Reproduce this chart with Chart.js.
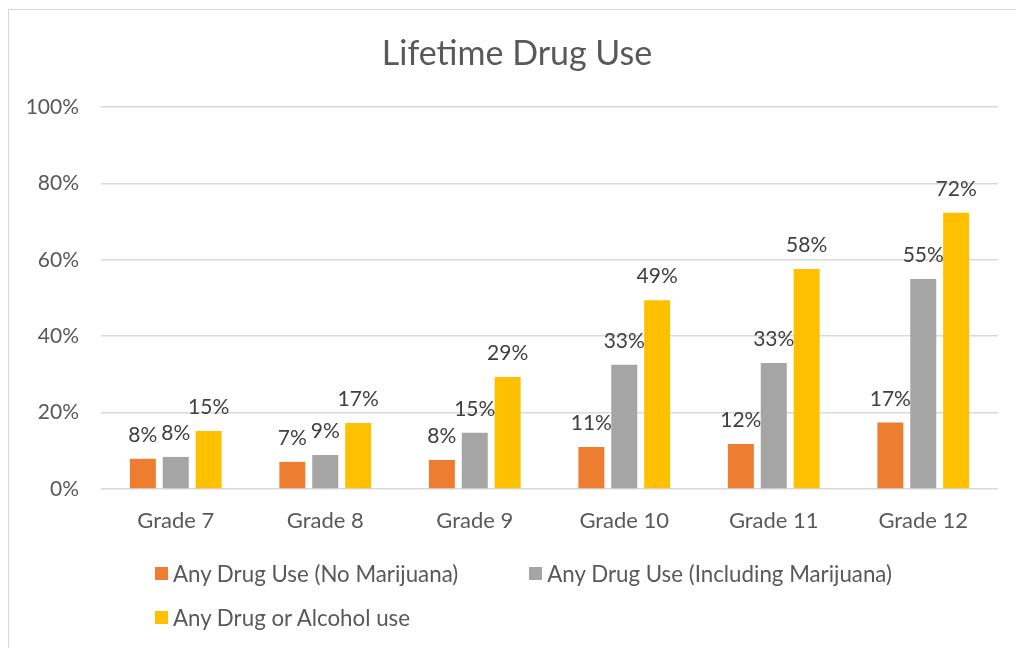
<!DOCTYPE html>
<html>
<head>
<meta charset="utf-8">
<script src="https://cdn.jsdelivr.net/npm/chart.js@4.4.1/dist/chart.umd.min.js"></script>
<style>
    html, body { margin: 0; padding: 0; background: #fff; overflow: hidden; }
    #wrap { position: relative; width: 1016px; height: 648px; }
    #frame { position: absolute; left: 8px; top: 9px; width: 1100px; height: 700px; border: 1px solid #d9d9d9; box-sizing: border-box; }
    #chart { position: absolute; left: 0; top: 0; }
    #title { position: absolute; left: 317px; width: 400px; top: 31px; text-align: center;
             font-family: Lato, sans-serif; font-size: 34px; line-height: 41px; color: #595959; }
    #legend { position: absolute; left: 155px; top: 560px; width: 820px; display: flex; flex-wrap: wrap; column-gap: 71px; row-gap: 18px;
              font-family: Lato, sans-serif; font-size: 22.3px; color: #595959; }
    .item { display: flex; align-items: center; height: 26px; white-space: nowrap; }
    .box { width: 13px; height: 13px; margin-right: 5px; }
</style>
</head>
<body>
<div id="wrap">
    <div id="frame"></div>
    <canvas id="chart" width="1016" height="648"></canvas>
    <div id="title"></div>
    <div id="legend"></div>
</div>
<script>
const chartTitle = 'Lifetime Drug Use';
const grades = ['Grade 7', 'Grade 8', 'Grade 9', 'Grade 10', 'Grade 11', 'Grade 12'];
const noMarijuana = [7.9, 7.1, 7.6, 11.0, 11.8, 17.4];
const inclMarijuana = [8.4, 8.9, 14.7, 32.5, 33.0, 55.0];
const drugOrAlcohol = [15.2, 17.3, 29.3, 49.4, 57.6, 72.3];
const seriesNames = ['Any Drug Use (No Marijuana)', 'Any Drug Use (Including Marijuana)', 'Any Drug or Alcohol use'];
const seriesColors = ['#ED7D31', '#A5A5A5', '#FFC000'];

const textColor = '#595959';
const fontFam = 'Lato, sans-serif';

// value labels above the bars
const barLabels = {
    id: 'barLabels',
    afterDatasetsDraw(chart) {
        const ctx = chart.ctx;
        ctx.save();
        ctx.font = '21px ' + fontFam;
        ctx.fillStyle = '#404040';
        ctx.textAlign = 'center';
        ctx.textBaseline = 'alphabetic';
        chart.data.datasets.forEach((ds, i) => {
            chart.getDatasetMeta(i).data.forEach((bar, j) => {
                ctx.fillText(Math.round(ds.data[j]) + '%', bar.x, bar.y - 17);
            });
        });
        ctx.restore();
    }
};

const allSeries = [noMarijuana, inclMarijuana, drugOrAlcohol];

new Chart(document.getElementById('chart'), {
    type: 'bar',
    data: {
        labels: grades,
        datasets: allSeries.map((d, i) => ({
            label: seriesNames[i],
            data: d,
            backgroundColor: seriesColors[i],
            categoryPercentage: 0.66,
            barPercentage: 0.79
        }))
    },
    options: {
        responsive: false,
        animation: false,
        layout: { padding: { left: 0, right: 18, top: 107, bottom: 109 } },
        plugins: {
            legend: { display: false },
            tooltip: { enabled: false },
            title: { display: false }
        },
        scales: {
            x: {
                grid: { display: false, drawTicks: false },
                border: { display: false },
                ticks: { color: textColor, font: { family: fontFam, size: 22 }, padding: 19 },
                afterFit(s) { s.height = 50; }
            },
            y: {
                min: 0,
                max: 100,
                grid: { color: '#d9d9d9', lineWidth: 1.5, drawTicks: false },
                border: { display: false },
                ticks: {
                    stepSize: 20,
                    color: textColor,
                    font: { family: fontFam, size: 21 },
                    padding: 22,
                    callback: v => v + '%'
                },
                afterFit(s) { s.width = 101; }
            }
        }
    },
    plugins: [barLabels]
});

document.getElementById('title').textContent = chartTitle;

const legend = document.getElementById('legend');
seriesNames.forEach((name, i) => {
    const it = document.createElement('div');
    it.className = 'item';
    it.innerHTML = '<span class="box" style="background:' + seriesColors[i] + '"></span><span>' + name + '</span>';
    legend.appendChild(it);
});
</script>
</body>
</html>
